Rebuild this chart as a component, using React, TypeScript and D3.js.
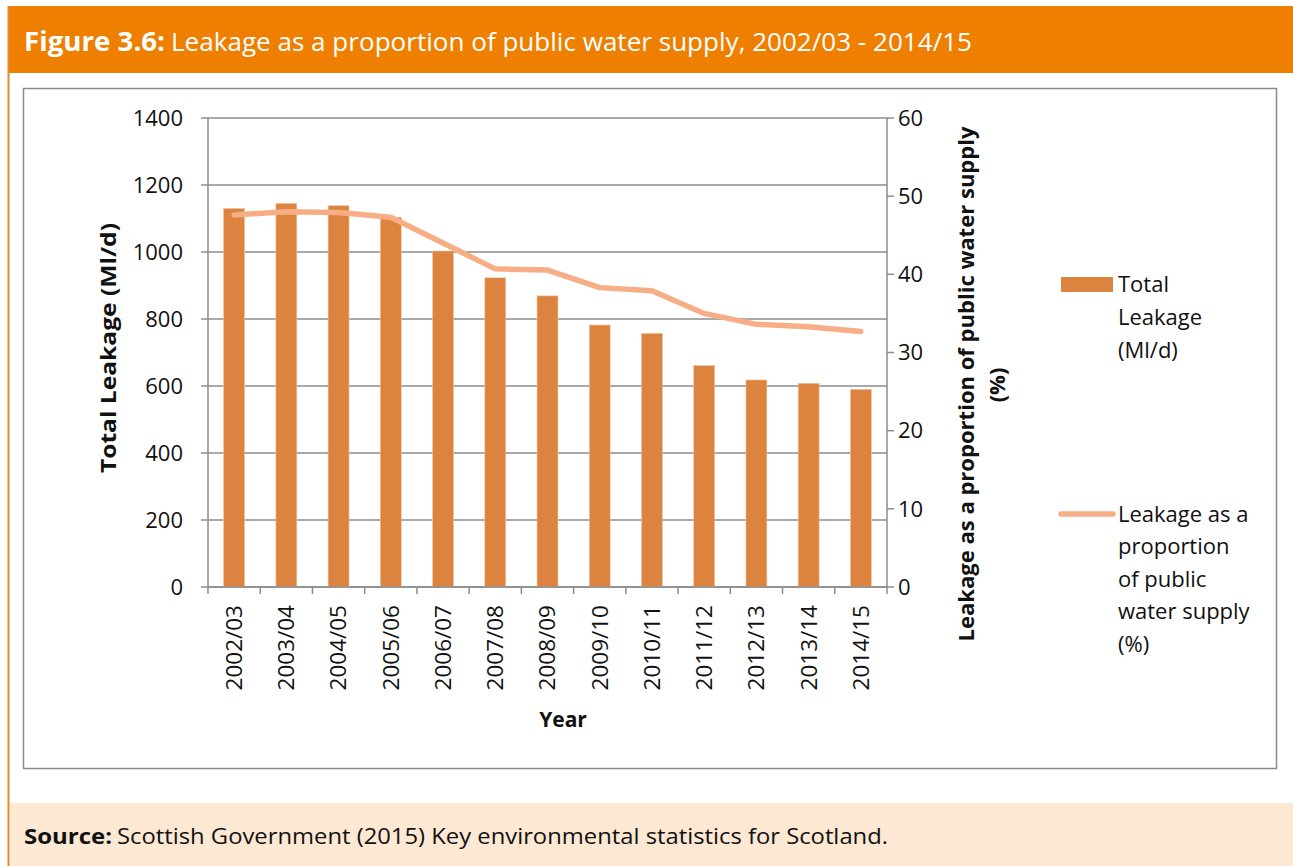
import React from "react";
import * as d3 from "d3";

const years = ["2002/03","2003/04","2004/05","2005/06","2006/07","2007/08","2008/09","2009/10","2010/11","2011/12","2012/13","2013/14","2014/15"];
const totalLeakage = [1130,1145,1138,1104,1003,923,869,782,757,661,618,608,590];
const leakagePct = [47.6,48.0,47.9,47.3,44.0,40.7,40.55,38.3,37.9,35.0,33.6,33.3,32.7];
const leftTicks = [0,200,400,600,800,1000,1200,1400];
const rightTicks = [0,10,20,30,40,50,60];

const W = 1293, H = 866;
const plotL = 208, plotR = 887, plotT = 118, plotB = 587;
const FONT = "'Open Sans', sans-serif";
const GRID = "#8c8c8c";
const BAR = "#DC843F";
const LINE = "#F7AE86";

export default function App() {
  const x = d3.scaleBand<string>().domain(years).range([plotL, plotR]).paddingInner(0.6).paddingOuter(0.3);
  const yL = d3.scaleLinear().domain([0, 1400]).range([plotB, plotT]);
  const yR = d3.scaleLinear().domain([0, 60]).range([plotB, plotT]);
  const cx = (d: string) => (x(d) as number) + x.bandwidth() / 2;
  const line = d3.line<number>().x((_, i) => cx(years[i])).y((v) => yR(v));
  const boundaries = d3.range(years.length + 1).map((i) => plotL + i * ((plotR - plotL) / years.length));

  const legend1 = ["Total", "Leakage", "(Ml/d)"];
  const legend2 = ["Leakage as a", "proportion", "of public", "water supply", "(%)"];

  return (
    <svg width={W} height={H} style={{ position: "absolute", left: 0, top: 0, display: "block" }} fontFamily={FONT}>
      <rect x={0} y={0} width={W} height={H} fill="#fff" />
      {/* header */}
      <rect x={8} y={6} width={W - 8} height={67} fill="#EE7F00" />
      <line x1={8.5} x2={8.5} y1={6} y2={H} stroke="#E48A2A" strokeWidth={2} />
      <text x={24} y={51} fill="#fff" fontSize={26} fontWeight="bold" textLength={141} lengthAdjust="spacingAndGlyphs">Figure 3.6:</text>
      <text x={171} y={51} fill="#fff" fontSize={26} textLength={801} lengthAdjust="spacingAndGlyphs">Leakage as a proportion of public water supply, 2002/03 - 2014/15</text>
      {/* source */}
      <rect x={10} y={803} width={W - 10} height={63} fill="#FDE8D3" />
      <text x={24} y={844} fill="#111" fontSize={22} fontWeight="bold" textLength={88} lengthAdjust="spacingAndGlyphs">Source:</text>
      <text x={117} y={844} fill="#111" fontSize={22} textLength={771} lengthAdjust="spacingAndGlyphs">Scottish Government (2015) Key environmental statistics for Scotland.</text>
      {/* chart frame */}
      <rect x={23.5} y={88.5} width={1253} height={680} fill="#fff" stroke="#8a8a8a" strokeWidth={1.5} />
      {/* gridlines */}
      {leftTicks.map((t) => (
        <line key={"g" + t} x1={plotL} x2={plotR} y1={yL(t)} y2={yL(t)} stroke={GRID} strokeWidth={1.5} />
      ))}
      {/* bars */}
      {years.map((d, i) => (
        <rect key={d} x={x(d)} y={yL(totalLeakage[i])} width={x.bandwidth()} height={plotB - yL(totalLeakage[i])} fill={BAR} stroke="#F0C29C" strokeWidth={0.6} />
      ))}
      {/* axes */}
      <line x1={plotL} x2={plotL} y1={plotT} y2={plotB} stroke={GRID} strokeWidth={1.5} />
      <line x1={plotR} x2={plotR} y1={plotT} y2={plotB} stroke={GRID} strokeWidth={1.5} />
      <line x1={plotL} x2={plotR} y1={plotB} y2={plotB} stroke={GRID} strokeWidth={1.5} />
      {leftTicks.map((t) => (
        <g key={"l" + t}>
          <line x1={plotL - 7} x2={plotL} y1={yL(t)} y2={yL(t)} stroke={GRID} strokeWidth={1.5} />
          <text x={183} y={yL(t)} dy="0.35em" textAnchor="end" fontSize={22} fill="#111">{t}</text>
        </g>
      ))}
      {rightTicks.map((t) => (
        <g key={"r" + t}>
          <line x1={plotR} x2={plotR + 7} y1={yR(t)} y2={yR(t)} stroke={GRID} strokeWidth={1.5} />
          <text x={898} y={yR(t)} dy="0.35em" textAnchor="start" fontSize={22} fill="#111">{t}</text>
        </g>
      ))}
      {boundaries.map((b, i) => (
        <line key={"b" + i} x1={b} x2={b} y1={plotB} y2={plotB + 7} stroke={GRID} strokeWidth={1.5} />
      ))}
      {years.map((d) => (
        <text key={"xl" + d} transform={`translate(${cx(d)},${605}) rotate(-90)`} dy="0.35em" textAnchor="end" fontSize={22.5} fill="#111">{d}</text>
      ))}
      {/* line */}
      <path d={line(leakagePct) || ""} fill="none" stroke={LINE} strokeWidth={5.5} strokeLinecap="round" strokeLinejoin="round" />
      {/* axis titles */}
      <text transform={`translate(108,348) rotate(-90)`} dy="0.35em" textAnchor="middle" fontSize={22} fontWeight="bold" fill="#111" textLength={250} lengthAdjust="spacingAndGlyphs">Total Leakage (Ml/d)</text>
      <text x={563} y={720} dy="0.35em" textAnchor="middle" fontSize={21} fontWeight="bold" fill="#111">Year</text>
      <text transform={`translate(966,384) rotate(-90)`} dy="0.35em" textAnchor="middle" fontSize={22} fontWeight="bold" fill="#111" textLength={515} lengthAdjust="spacingAndGlyphs">Leakage as a proportion of public water supply</text>
      <text transform={`translate(997,385) rotate(-90)`} dy="0.35em" textAnchor="middle" fontSize={22} fontWeight="bold" fill="#111">(%)</text>
      {/* legend */}
      <rect x={1061} y={277} width={52} height={15} fill={BAR} />
      {legend1.map((s, i) => (
        <text key={s} x={1118} y={284 + i * 33} dy="0.35em" fontSize={22} fill="#111">{s}</text>
      ))}
      <line x1={1061} x2={1113} y1={514} y2={514} stroke={LINE} strokeWidth={5.5} strokeLinecap="round" />
      {legend2.map((s, i) => (
        <text key={s} x={1118} y={514 + i * 32.5} dy="0.35em" fontSize={22} fill="#111">{s}</text>
      ))}
    </svg>
  );
}
